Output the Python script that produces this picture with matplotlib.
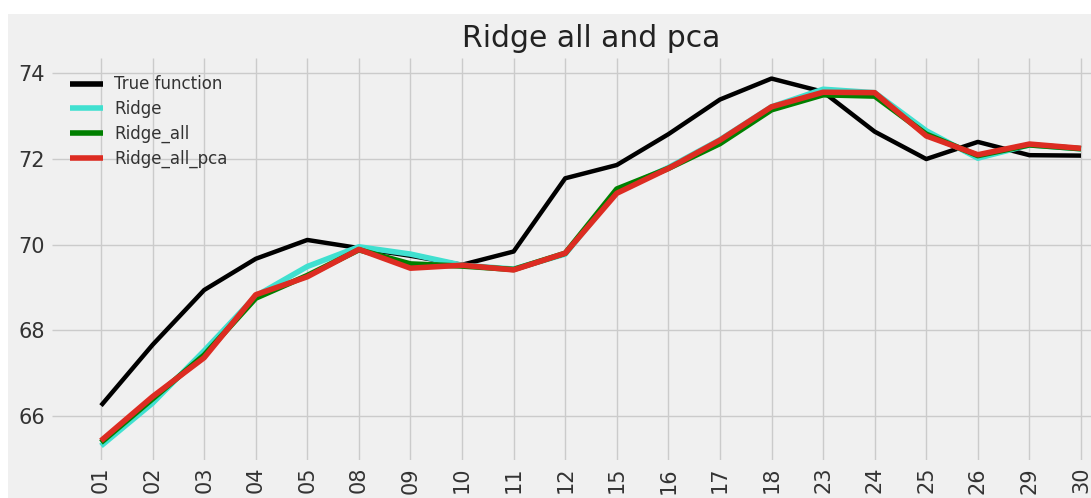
import matplotlib
matplotlib.use("Agg")
import matplotlib.pyplot as plt
from matplotlib.patches import Rectangle
from matplotlib.ticker import MultipleLocator

days = ["01", "02", "03", "04", "05", "08", "09", "10", "11", "12",
        "15", "16", "17", "18", "23", "24", "25", "26", "29", "30"]

true_fn = [66.24, 67.66, 68.94, 69.67, 70.11, 69.92, 69.74, 69.53, 69.84, 71.55,
           71.86, 72.58, 73.39, 73.88, 73.57, 72.64, 72.00, 72.40, 72.09, 72.08]
ridge = [65.30, 66.30, 67.52, 68.80, 69.49, 69.95, 69.78, 69.52, 69.43, 69.78,
         71.25, 71.80, 72.45, 73.22, 73.63, 73.55, 72.66, 72.02, 72.33, 72.24]
ridge_all = [65.38, 66.40, 67.42, 68.75, 69.28, 69.88, 69.55, 69.50, 69.42, 69.80,
             71.30, 71.78, 72.36, 73.15, 73.50, 73.47, 72.58, 72.08, 72.33, 72.24]
ridge_all_pca = [65.42, 66.45, 67.36, 68.83, 69.25, 69.89, 69.45, 69.52, 69.41, 69.80,
                 71.20, 71.78, 72.44, 73.22, 73.56, 73.55, 72.54, 72.10, 72.35, 72.25]

plt.style.use("fivethirtyeight")

fig = plt.figure(figsize=(10.91, 4.98), dpi=100, facecolor="white")
# grey canvas behind the plot
fig.patches.append(Rectangle((8 / 1091, 0), 1, 1 - 14 / 498,
                             transform=fig.transFigure, facecolor="#f0f0f0",
                             edgecolor="none", zorder=-1))

ax = fig.add_axes([52 / 1091, 38 / 498, 1078 / 1091, 402 / 498])
ax.set_facecolor("#f0f0f0")

x = list(range(len(days)))
ax.plot(x, true_fn, color="black", lw=3.2, label="True function")
ax.plot(x, ridge, color="turquoise", lw=4, label="Ridge")
ax.plot(x, ridge_all, color="green", lw=4, label="Ridge_all")
ax.plot(x, ridge_all_pca, color="#dd2c22", lw=4, label="Ridge_all_pca")

ax.set_xlim(-0.95, 19.95)
ax.set_ylim(64.97, 74.36)
ax.yaxis.set_major_locator(MultipleLocator(2))
ax.set_xticks(x)
ax.set_xticklabels(days, rotation=90)
ax.tick_params(axis="both", labelsize=15, colors="#333333", pad=5)
ax.grid(True, color="#cbcbcb", lw=1)
for s in ax.spines.values():
    s.set_visible(False)

ax.set_title("Ridge all and pca", fontsize=21.5, color="#222222", pad=8)

leg = ax.legend(loc="upper left", frameon=False, fontsize=12,
                handlelength=2.0, labelspacing=0.4, borderaxespad=0.65,
                handletextpad=0.7)
for text in leg.get_texts():
    text.set_color("#333333")
for line in leg.get_lines():
    line.set_linewidth(4)

fig.savefig("out.png", dpi=100, facecolor=fig.get_facecolor())
plt.close(fig)
